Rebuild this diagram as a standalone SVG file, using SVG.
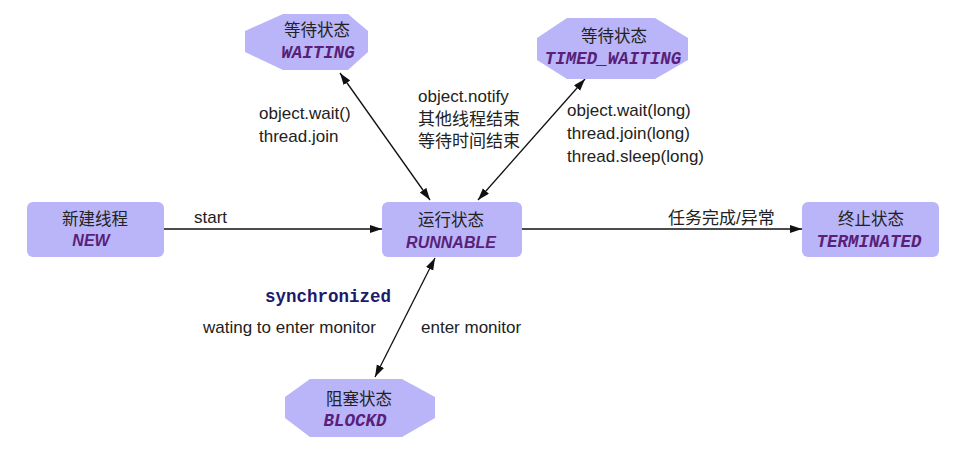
<svg xmlns="http://www.w3.org/2000/svg" width="956" height="457" viewBox="0 0 956 457">
<style>
.node{fill:#b9b5f8;}
.cn{font-family:"Liberation Sans","Noto Sans CJK SC",sans-serif;font-size:16.5px;fill:#222;text-anchor:middle;}
.en-sans{font-family:"Liberation Sans",Arial,sans-serif;font-size:16px;font-weight:bold;font-style:italic;fill:#5a1f78;text-anchor:middle;}
.en-mono{font-family:"Liberation Mono","DejaVu Sans Mono",monospace;font-size:17.5px;font-weight:bold;font-style:italic;fill:#5a1f78;text-anchor:middle;}
.lbl{font-family:"Liberation Sans","Noto Sans CJK SC",sans-serif;font-size:17px;fill:#222;}
.sync{font-family:"Liberation Mono","DejaVu Sans Mono",monospace;font-size:17.5px;font-weight:bold;fill:#1c1a6a;}
.edge{stroke:#111;stroke-width:1.3;fill:none;}
</style>
<defs>
<marker id="ah" markerUnits="userSpaceOnUse" markerWidth="13" markerHeight="9" refX="12" refY="4" orient="auto-start-reverse">
<path d="M0,0 L12,4 L0,8 z" fill="#111"/>
</marker>
</defs>
<rect width="956" height="457" fill="#fff"/>
<g id="connectors">
<path class="edge" d="M164,229 L382,229" marker-end="url(#ah)"/>
<path class="edge" d="M522,229 L802,229" marker-end="url(#ah)"/>
<path class="edge" d="M340,73 L430,200" marker-start="url(#ah)" marker-end="url(#ah)"/>
<path class="edge" d="M585,79 L478,200" marker-start="url(#ah)" marker-end="url(#ah)"/>
<path class="edge" d="M435,258 L375,377" marker-start="url(#ah)" marker-end="url(#ah)"/>
</g>
<g id="waiting">
<polygon class="node" points="283,14 348,14 368,31 368,52 348,70 283,70 245,52 245,31"/>
<text class="cn" x="317" y="36">等待状态</text>
<text class="en-mono" x="318" y="58">WAITING</text>
</g>
<g id="timed_waiting">
<polygon class="node" points="567,18 655,18 688,38 688,60 655,79 567,79 537,60 537,38"/>
<text class="cn" x="614" y="42">等待状态</text>
<text class="en-mono" x="613" y="64">TIMED_WAITING</text>
</g>
<g id="new">
<rect class="node" x="27" y="202" width="137" height="55" rx="6"/>
<text class="cn" x="95" y="225">新建线程</text>
<text class="en-sans" x="91" y="246">NEW</text>
</g>
<g id="runnable">
<rect class="node" x="382" y="202" width="140" height="55" rx="6"/>
<text class="cn" x="451" y="226">运行状态</text>
<text class="en-sans" x="451" y="248">RUNNABLE</text>
</g>
<g id="terminated">
<rect class="node" x="802" y="202" width="137" height="55" rx="6"/>
<text class="cn" x="871" y="225">终止状态</text>
<text class="en-mono" x="869" y="247">TERMINATED</text>
</g>
<g id="blockd">
<polygon class="node" points="310,379 402,379 435,397 435,418 402,437 310,437 285,418 285,397"/>
<text class="cn" x="359" y="405">阻塞状态</text>
<text class="en-mono" x="355" y="426">BLOCKD</text>
</g>
<g id="labels">
<text class="lbl" x="194" y="223">start</text>
<text class="lbl" x="259" y="119">object.wait()</text>
<text class="lbl" x="259" y="142">thread.join</text>
<text class="lbl" x="418" y="102">object.notify</text>
<text class="lbl" x="418" y="125">其他线程结束</text>
<text class="lbl" x="418" y="147">等待时间结束</text>
<text class="lbl" x="567" y="116">object.wait(long)</text>
<text class="lbl" x="567" y="139">thread.join(long)</text>
<text class="lbl" x="567" y="162">thread.sleep(long)</text>
<text class="lbl" x="668" y="224">任务完成/异常</text>
<text class="sync" x="265" y="302">synchronized</text>
<text class="lbl" x="203" y="333">wating to enter monitor</text>
<text class="lbl" x="421" y="333">enter monitor</text>
</g>
</svg>
